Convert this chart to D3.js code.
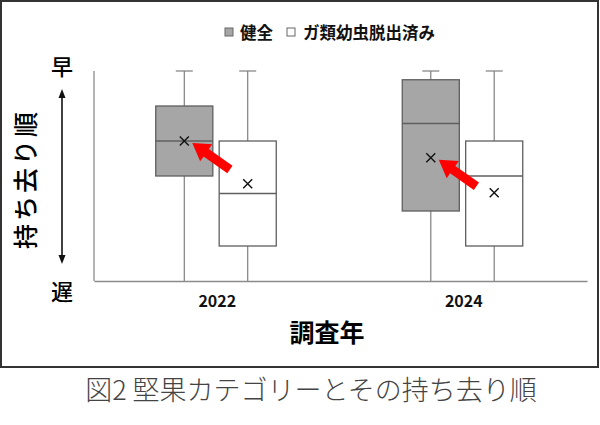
<!DOCTYPE html>
<html>
<head>
<meta charset="utf-8">
<script src="https://cdn.jsdelivr.net/npm/d3@7"></script>
<style>
  body { margin: 0; background: #fff; }
  svg { display: block; font-family: "Noto Sans CJK JP", "Noto Sans", sans-serif; }
</style>
</head>
<body>
<div id="chart"></div>
<script>
var width = 600,
    height = 425;

// categories
const years = ["2022", "2024"];
const series = ["健全", "ガ類幼虫脱出済み"];

// box stats per year, per series (rank: 1 = early, 7 = late)
const minRank    = [[1, 1],    [1, 1]];
const q1Rank     = [[2, 3],    [1.25, 3]];
const medianRank = [[3, 4.5],  [2.5, 4]];
const q3Rank     = [[4, 6],    [5, 6]];
const maxRank    = [[7, 7],    [7, 7]];
const meanRank   = [[3.0, 4.22], [3.48, 4.48]];

const rankDomain = [1, 7];
const fills = ["#a6a6a6", "#ffffff"];

// rows for drawing
var boxes = [];
years.forEach(function(yr, i) {
  series.forEach(function(s, j) {
    boxes.push({year: yr, series: s, min: minRank[i][j], q1: q1Rank[i][j],
      median: medianRank[i][j], q3: q3Rank[i][j], max: maxRank[i][j], mean: meanRank[i][j]});
  });
});

var svg = d3.select("#chart").append("svg")
  .attr("width", width)
  .attr("height", height);

// frame round the figure
svg.append("rect")
  .attr("x", 1).attr("y", 1)
  .attr("width", 597).attr("height", 366)
  .attr("fill", "none")
  .attr("stroke", "#333")
  .attr("stroke-width", 2);

var x = d3.scaleBand().domain(years).range([94, 587]);
var xs = d3.scaleBand().domain(series).range([-61.5, 59]).paddingInner(0.1);
var y = d3.scaleLinear().domain(rankDomain).range([71, 281]);
var color = d3.scaleOrdinal().domain(series).range(fills);

function cx(d) { return x(d.year) + x.bandwidth() / 2 + xs(d.series) + xs.bandwidth() / 2; }

// y axis line (no ticks)
svg.append("line")
  .attr("x1", 94).attr("x2", 94)
  .attr("y1", y(rankDomain[0])).attr("y2", y(rankDomain[1]))
  .attr("stroke", "#8c8c8c").attr("stroke-width", 1.3);

// whiskers
var g = svg.append("g");
var b = g.selectAll("g.box").data(boxes).join("g").attr("class", "box");

b.append("line")
  .attr("x1", cx).attr("x2", cx)
  .attr("y1", d => y(d.min)).attr("y2", d => y(d.max))
  .attr("stroke", "#7f7f7f").attr("stroke-width", 1.2);

b.append("line")
  .attr("x1", d => cx(d) - 8.5).attr("x2", d => cx(d) + 8.5)
  .attr("y1", d => y(d.min)).attr("y2", d => y(d.min))
  .attr("stroke", "#7f7f7f").attr("stroke-width", 1.2);

b.append("rect")
  .attr("x", d => cx(d) - xs.bandwidth() / 2)
  .attr("width", xs.bandwidth())
  .attr("y", d => y(d.q1))
  .attr("height", d => y(d.q3) - y(d.q1))
  .attr("fill", d => color(d.series))
  .attr("stroke", "#5f5f5f").attr("stroke-width", 1.3);

b.append("line")
  .attr("x1", d => cx(d) - xs.bandwidth() / 2).attr("x2", d => cx(d) + xs.bandwidth() / 2)
  .attr("y1", d => y(d.median)).attr("y2", d => y(d.median))
  .attr("stroke", "#5f5f5f").attr("stroke-width", 1.3);

// mean markers (x)
b.append("path")
  .attr("d", d => {
    var mx = cx(d), my = y(d.mean), r = 4.5;
    return "M" + (mx - r) + "," + (my - r) + "L" + (mx + r) + "," + (my + r) +
           "M" + (mx - r) + "," + (my + r) + "L" + (mx + r) + "," + (my - r);
  })
  .attr("stroke", "#111").attr("stroke-width", 1.4).attr("fill", "none");

// x axis
var xAxis = svg.append("g")
  .attr("transform", "translate(0," + y(rankDomain[1]) + ")")
  .call(d3.axisBottom(x).tickSize(0).tickPadding(15).tickSizeOuter(0));
xAxis.select(".domain").attr("stroke", "#8c8c8c").attr("stroke-width", 1.3);
xAxis.selectAll("text")
  .attr("font-family", "\"Noto Sans CJK JP\", sans-serif")
  .attr("font-size", 16).attr("font-weight", 700).attr("fill", "#111");

// red arrows pointing at the 健全 means
var arrowData = boxes.filter(d => d.series === series[0]);
var L = 46, shaft = 9, head = 21, headLen = 17;
var arrowPts = [[0, -shaft / 2], [L - headLen, -shaft / 2], [L - headLen, -head / 2], [L, 0],
  [L - headLen, head / 2], [L - headLen, shaft / 2], [0, shaft / 2]];
var angle = Math.atan2(-26, -37) * 180 / Math.PI;
svg.selectAll("polygon.arrow").data(arrowData).join("polygon")
  .attr("class", "arrow")
  .attr("points", arrowPts.map(p => p.join(",")).join(" "))
  .attr("transform", d => "translate(" + (cx(d) + 8) + "," + (y(d.mean) + 2) + ") rotate(" + angle + ") translate(" + (-L) + ",0)")
  .attr("fill", "#ff0000");

// y label: early/late and double arrow
svg.append("text").attr("x", 62).attr("y", 75).attr("text-anchor", "middle")
  .attr("font-size", 22).attr("font-weight", 500).text("早");
svg.append("text").attr("x", 62).attr("y", 300).attr("text-anchor", "middle")
  .attr("font-size", 22).attr("font-weight", 500).text("遅");

svg.append("line")
  .attr("x1", 62).attr("x2", 62).attr("y1", 97).attr("y2", 256)
  .attr("stroke", "#111").attr("stroke-width", 1.6);
svg.append("path").attr("d", "M62,89L58.5,98L65.5,98Z").attr("fill", "#111");
svg.append("path").attr("d", "M62,264L58.5,255L65.5,255Z").attr("fill", "#111");

svg.append("text")
  .attr("transform", "translate(35,179) rotate(-90)")
  .attr("text-anchor", "middle")
  .attr("font-size", 25).attr("font-weight", 500)
  .attr("letter-spacing", 3)
  .text("持ち去り順");

// x title
svg.append("text").attr("x", 327).attr("y", 342).attr("text-anchor", "middle")
  .attr("font-size", 25).attr("font-weight", 700).text("調査年");

// legend
var legend = svg.append("g");
var legX = [225, 287], legTextX = [240, 303];
series.forEach(function(s, i) {
  legend.append("rect")
    .attr("x", legX[i]).attr("y", 28).attr("width", 8).attr("height", 8)
    .attr("fill", color(s)).attr("stroke", "#666").attr("stroke-width", 1);
  legend.append("text")
    .attr("x", legTextX[i]).attr("y", 39)
    .attr("font-size", 16.5).attr("font-weight", 700).attr("fill", "#111")
    .text(s);
});

// caption
svg.append("text").attr("x", 311).attr("y", 400).attr("text-anchor", "middle")
  .attr("font-size", 27).attr("font-weight", 300).attr("fill", "#444")
  .text("図2 堅果カテゴリーとその持ち去り順");
</script>
</body>
</html>
